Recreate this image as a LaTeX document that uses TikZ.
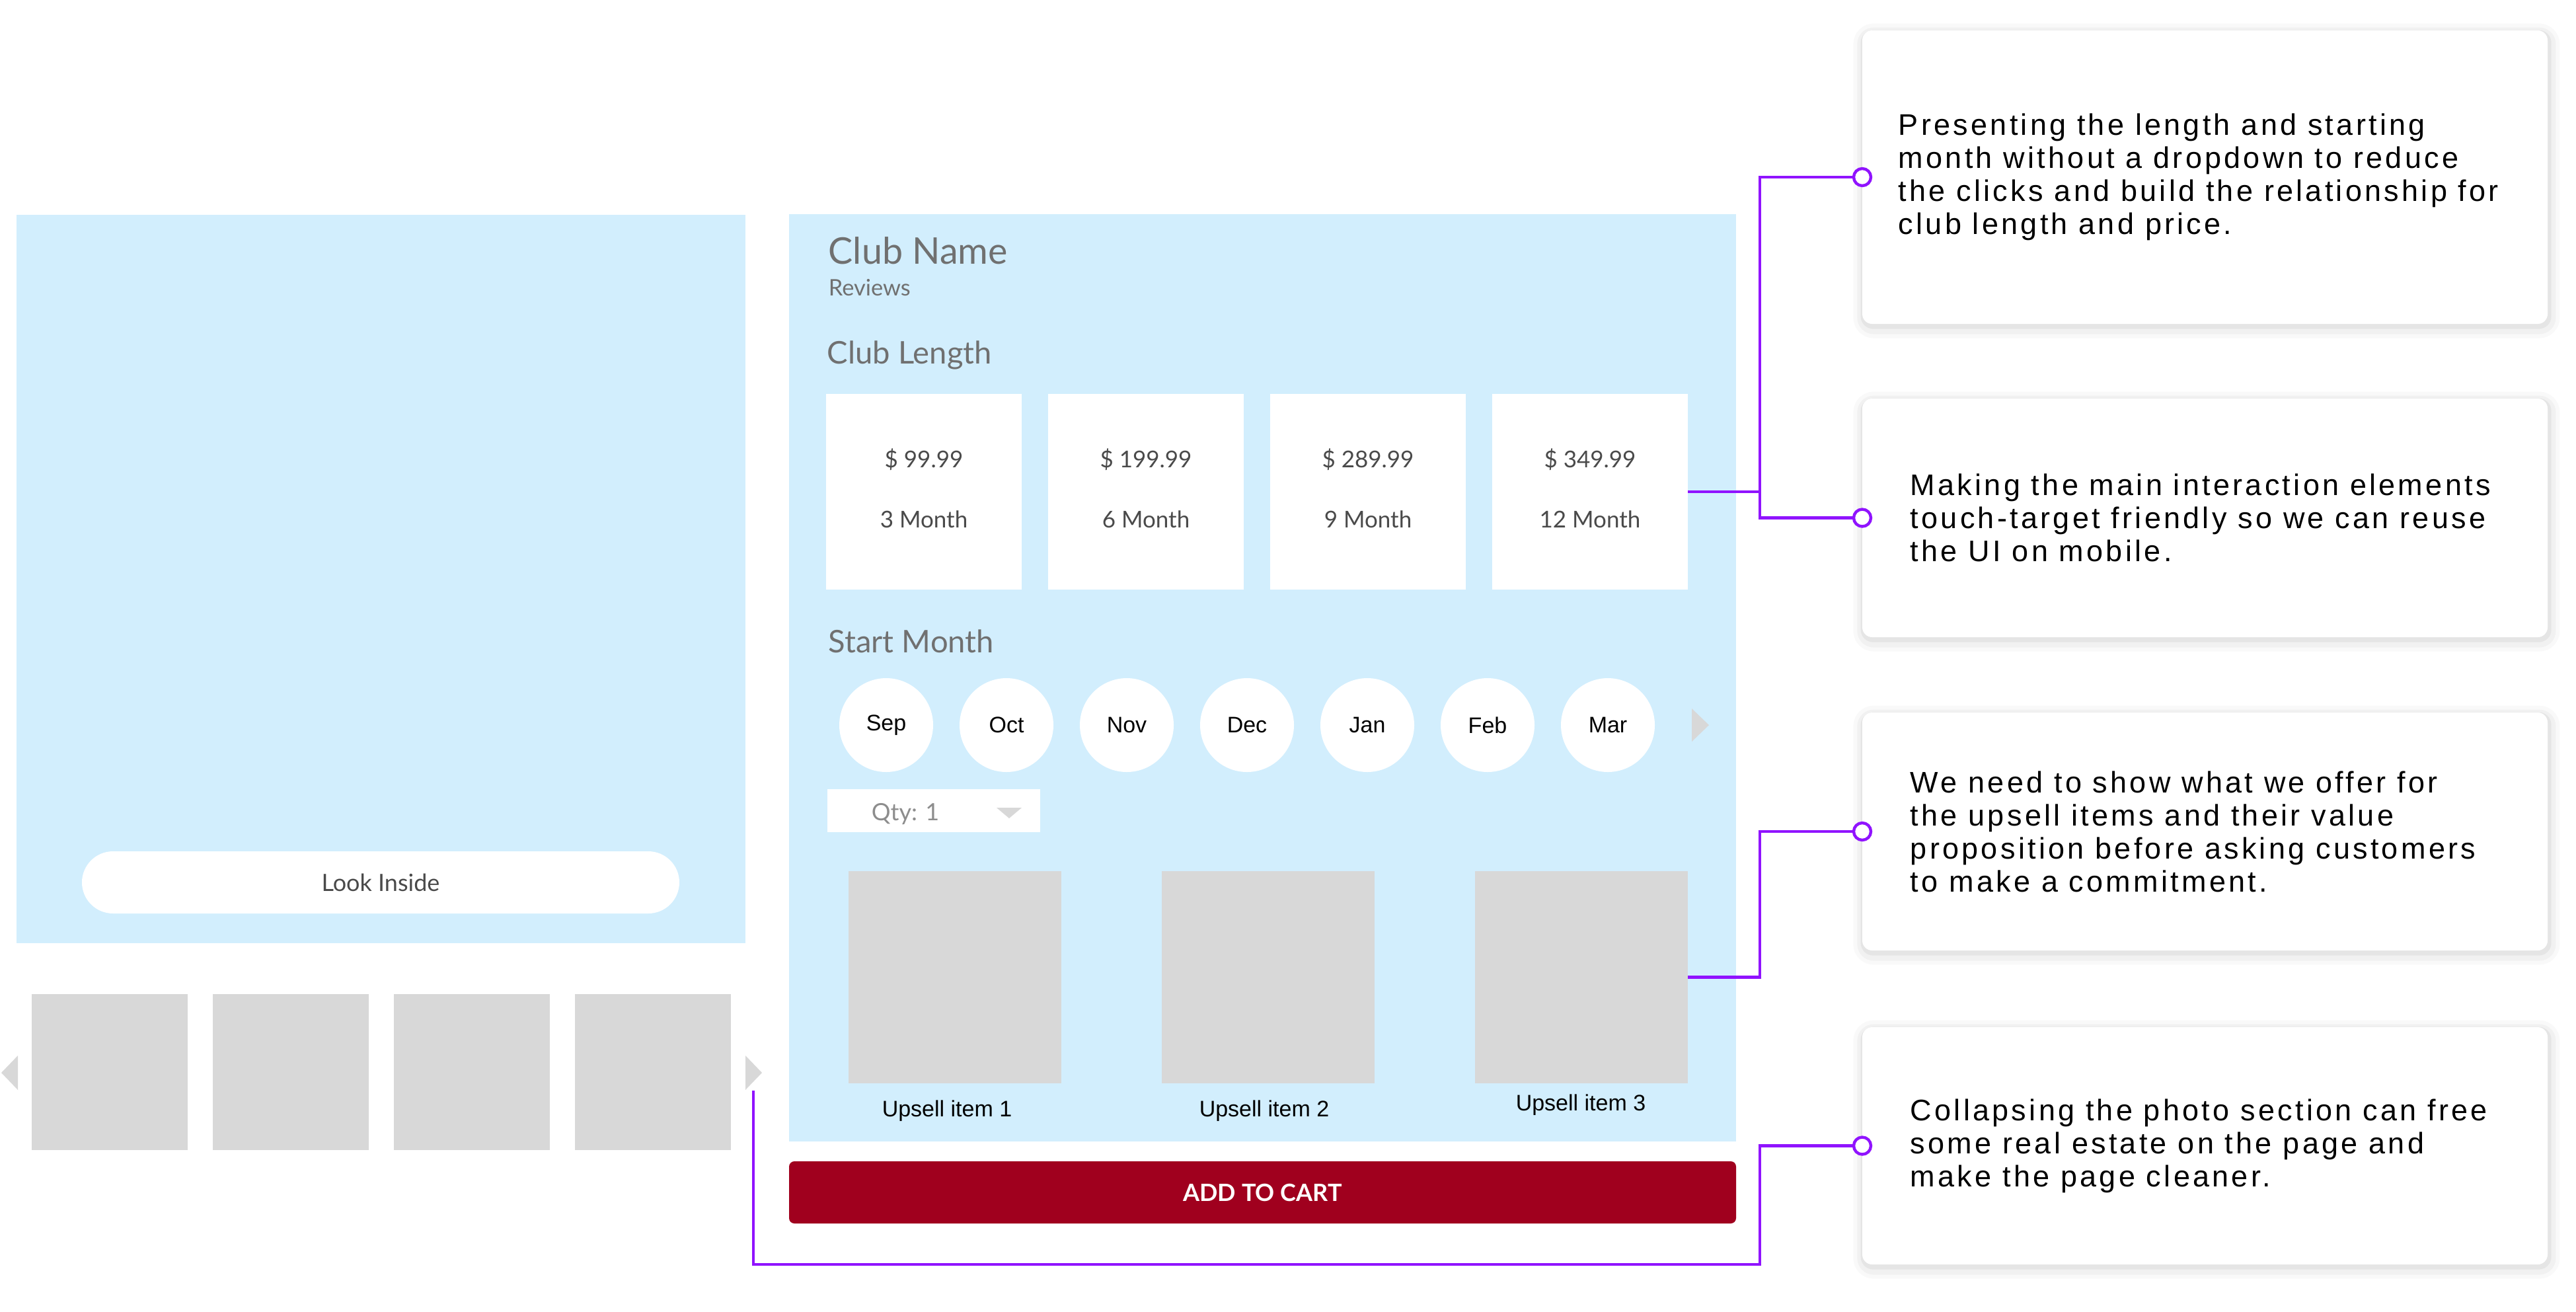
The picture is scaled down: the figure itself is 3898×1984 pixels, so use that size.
\documentclass[tikz,border=0pt]{standalone}
\usepackage{fontspec}
\setmainfont{Lato}
\newfontfamily\uifont{Liberation Sans}
\newfontfamily\notefont[LetterSpace=9.5]{Liberation Sans}
\usetikzlibrary{positioning}
\definecolor{panelblue}{HTML}{D2EEFD}
\definecolor{thumbgrey}{HTML}{D8D8D8}
\definecolor{headgrey}{HTML}{707070}
\definecolor{pricegrey}{HTML}{4A4A4A}
\definecolor{linkpurple}{HTML}{9013FE}
\definecolor{cartred}{HTML}{A0001E}

\begin{document}
\begin{tikzpicture}[x=0.25pt,y=-0.25pt,
                    panel/.style={fill=panelblue,inner sep=0pt,outer sep=0pt},
                    card/.style={fill=white,inner sep=0pt,outer sep=0pt,minimum width=74pt,minimum height=74pt},
                    month/.style={circle,fill=white,inner sep=0pt,outer sep=0pt,minimum size=35.5pt,
                                  font=\uifont\fontsize{8.5}{10}\selectfont},
                    thumb/.style={fill=thumbgrey,inner sep=0pt,outer sep=0pt,minimum width=59pt,minimum height=59pt},
                    upsell/.style={fill=thumbgrey,inner sep=0pt,outer sep=0pt,minimum width=80.5pt,minimum height=80.25pt},
                    heading/.style={anchor=base west,inner sep=0pt,text=headgrey},
                    price/.style={anchor=base,inner sep=0pt,text=pricegrey,font=\fontsize{8.75}{10}\selectfont},
                    caption/.style={anchor=base,inner sep=0pt,font=\uifont\fontsize{8.5}{10}\selectfont},
                    tip/.style={fill=thumbgrey},
                    note/.style={fill=white,rounded corners=3.75pt,outer sep=0pt,minimum width=259.25pt,
                                 preaction={draw=black,draw opacity=0.025,line width=8pt,transform canvas={shift={(0.6pt,-1.4pt)}}},
                                 preaction={draw=black,draw opacity=0.03,line width=5pt,transform canvas={shift={(0.6pt,-1.4pt)}}},
                                 preaction={draw=black,draw opacity=0.05,line width=2pt,transform canvas={shift={(0.4pt,-0.9pt)}}}},
                    notetext/.style={anchor=west,align=left,inner sep=0pt,
                                     font=\notefont\fontsize{11.25}{12.5}\selectfont},
                    dot/.style={circle,draw=linkpurple,fill=white,line width=1.1pt,minimum size=6.5pt,inner sep=0pt},
                    wire/.style={draw=linkpurple,line width=1.2pt}]
    \useasboundingbox (0,0) rectangle (3898,1984);

    % photo column
    \node [panel,minimum width=275.75pt,minimum height=275.5pt] (photo) at (576.5,876) {};
    \node [fill=white,rounded corners=11.75pt,minimum width=226pt,minimum height=23.5pt,
           text=pricegrey,font=\fontsize{9}{11}\selectfont] (look) at (576,1335) {Look Inside};
    \node [thumb] (t1) at (166,1622) {};
    \node [thumb,right=9.5pt of t1] (t2) {};
    \node [thumb,right=9.5pt of t2] (t3) {};
    \node [thumb,right=9.5pt of t3] (t4) {};
    \fill [tip] (27,1597) -- (2,1623) -- (27,1649) -- cycle;
    \fill [tip] (1128,1597) -- (1153,1623) -- (1128,1649) -- cycle;

    % detail column
    \node [panel,minimum width=358.25pt,minimum height=350.75pt] (detail) at (1910.5,1025.5) {};
    \node [heading,font=\fontsize{13.9}{16}\selectfont] (club) at (1253,399) {Club Name};
    \node [heading,font=\fontsize{8.6}{10}\selectfont] (reviews) at (1253,447) {Reviews};
    \node [heading,font=\fontsize{11.8}{14}\selectfont] (length) at (1251,550) {Club Length};

    \node [card] (c1) at (1398,744) {};
    \node [card,right=10pt of c1] (c2) {};
    \node [card,right=10pt of c2] (c3) {};
    \node [card,right=10pt of c3] (c4) {};
    \foreach \p/\m [count=\i] in {99.99/3,199.99/6,289.99/9,349.99/12} {
        \node [price] (p\i) at ([yshift=9.25pt]c\i.center) {\$\ \p};
        \node [price] (mo\i) at ([yshift=-13.5pt]c\i.center) {\m\ Month};
    }

    \node [heading,font=\fontsize{11.8}{14}\selectfont] (start) at (1253,987) {Start Month};
    \foreach \m [count=\i] in {Sep,Oct,Nov,Dec,Jan,Feb,Mar}
        \node [month] (m\i) at ({1341+182*(\i-1)},1097) {\m};
    \fill [tip] (2560,1072) -- (2586,1097) -- (2560,1122) -- cycle;

    \node [fill=white,inner sep=0pt,minimum width=80.5pt,minimum height=16.25pt] (qty) at (1413,1226.5) {};
    \node [anchor=base west,inner sep=0pt,text=headgrey!80,font=\fontsize{9}{11}\selectfont] (qtytext) at (1318,1241) {Qty: 1};
    \fill [tip] (1508,1222) -- (1546,1222) -- (1527,1238) -- cycle;

    \node [upsell] (u1) at (1445,1478.5) {};
    \node [upsell,right=38pt of u1] (u2) {};
    \node [upsell,right=38pt of u2] (u3) {};
    \node [caption] (cap1) at (1433,1689) {Upsell item 1};
    \node [caption] (cap2) at (1913,1689) {Upsell item 2};
    \node [caption] (cap3) at (2392,1680) {Upsell item 3};

    \node [fill=cartred,rounded corners=2pt,minimum width=358.25pt,minimum height=23.5pt,
           text=white,font=\bfseries\fontsize{9}{11}\selectfont] (cart) at (1910.5,1804) {ADD TO CART};

    % notes
    \node [note,minimum height=111pt] (n1) at (3336.5,268) {};
    \node [note,minimum height=90.25pt] (n2) at (3336.5,783.5) {};
    \node [note,minimum height=90pt] (n3) at (3336.5,1258) {};
    \node [note,minimum height=89.75pt] (n4) at (3336.5,1733.5) {};

    \node [notetext] (nt1) at ([xshift=13.5pt]n1.west) {Presenting the length and starting\\month without a dropdown to reduce\\the clicks and build the relationship for\\club length and price.};
    \node [notetext] (nt2) at ([xshift=18pt]n2.west) {Making the main interaction elements\\touch-target friendly so we can reuse\\the UI on mobile.};
    \node [notetext] (nt3) at ([xshift=18pt]n3.west) {We need to show what we offer for\\the upsell items and their value\\proposition before asking customers\\to make a commitment.};
    \node [notetext] (nt4) at ([xshift=18pt]n4.west) {Collapsing the photo section can free\\some real estate on the page and\\make the page cleaner.};

    % connectors
    \coordinate (trunk) at (2663,0);
    \coordinate (photoend) at (1140,1650);
    \coordinate (turn) at (2663,1913);
    \draw [wire] (c4.east) -- (c4.east -| trunk) |- (n1.west);
    \draw [wire] (c4.east -| trunk) |- (n2.west);
    \draw [wire] (u3.east) -- (u3.east -| trunk) |- (n3.west);
    \draw [wire] (photoend) |- (turn) |- (n4.west);
    \foreach \i in {1,2,3,4}
        \node [dot] (d\i) at (n\i.west) {};
\end{tikzpicture}
\end{document}
